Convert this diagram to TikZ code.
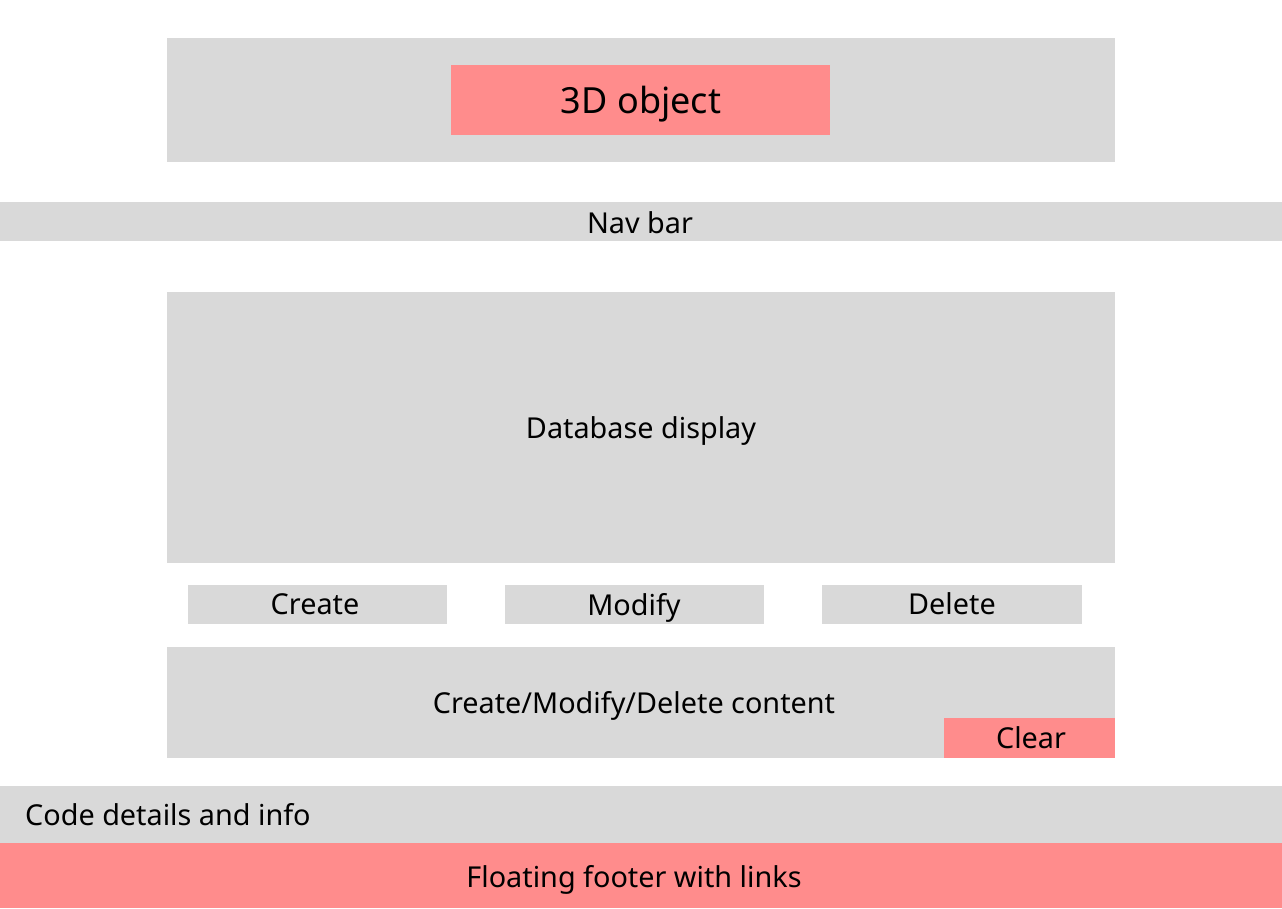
\documentclass[tikz,border=0pt]{standalone}
\usepackage{fontspec}
\setmainfont{Noto Sans}
\definecolor{boxgray}{HTML}{D9D9D9}
\definecolor{boxpink}{HTML}{FF8C8C}
\begin{document}
\begin{tikzpicture}[x=1pt,y=-1pt,
  blk/.style={inner sep=0pt,outer sep=0pt},
  gbox/.style={blk,fill=boxgray},
  pbox/.style={blk,fill=boxpink},
  lbl/.style={inner sep=0pt,anchor=base,font=\fontsize{28.8}{34}\selectfont}]
\useasboundingbox (0,0) rectangle (1282,908);
\fill[white] (0,0) rectangle (1282,908);
% top
\node[gbox,minimum width=948pt,minimum height=124pt] (top) at (641,100) {};
\node[pbox,minimum width=379pt,minimum height=70pt] (obj) at (640.5,100) {};
\node[lbl,font=\fontsize{36}{42}\selectfont] (objtext) at (641,113) {3D object};
% nav
\node[gbox,minimum width=1282pt,minimum height=39pt] (nav) at (641,221.5) {};
\node[lbl] (navtext) at (640,233) {Nav bar};
% database
\node[gbox,minimum width=948pt,minimum height=271pt] (db) at (641,427.5) {};
\node[lbl] (dbtext) at (641,438) {Database display};
% buttons
\node[gbox,minimum width=259pt,minimum height=39pt] (create) at (317.5,604.5) {};
\node[gbox,minimum width=259pt,minimum height=39pt] (modify) at (634.5,604.5) {};
\node[gbox,minimum width=260pt,minimum height=39pt] (delete) at (952,604.5) {};
\node[lbl] (createtext) at (315,614) {Create};
\node[lbl] (modifytext) at (634,615.5) {Modify};
\node[lbl] (deletetext) at (952,614) {Delete};
% content
\node[gbox,minimum width=948pt,minimum height=111pt] (content) at (641,702.5) {};
\node[lbl] (contenttext) at (634,713) {Create/Modify/Delete content};
\node[pbox,minimum width=171pt,minimum height=40pt] (clear) at (1029.5,738) {};
\node[lbl] (cleartext) at (1031,748) {Clear};
% code details
\node[gbox,minimum width=1282pt,minimum height=57pt] (code) at (641,814.5) {};
\node[lbl,anchor=base west] (codetext) at (25,825) {Code details and info};
% footer
\node[pbox,minimum width=1282pt,minimum height=65pt] (footer) at (641,875.5) {};
\node[lbl] (footertext) at (634,887) {Floating footer with links};
\end{tikzpicture}
\end{document}
